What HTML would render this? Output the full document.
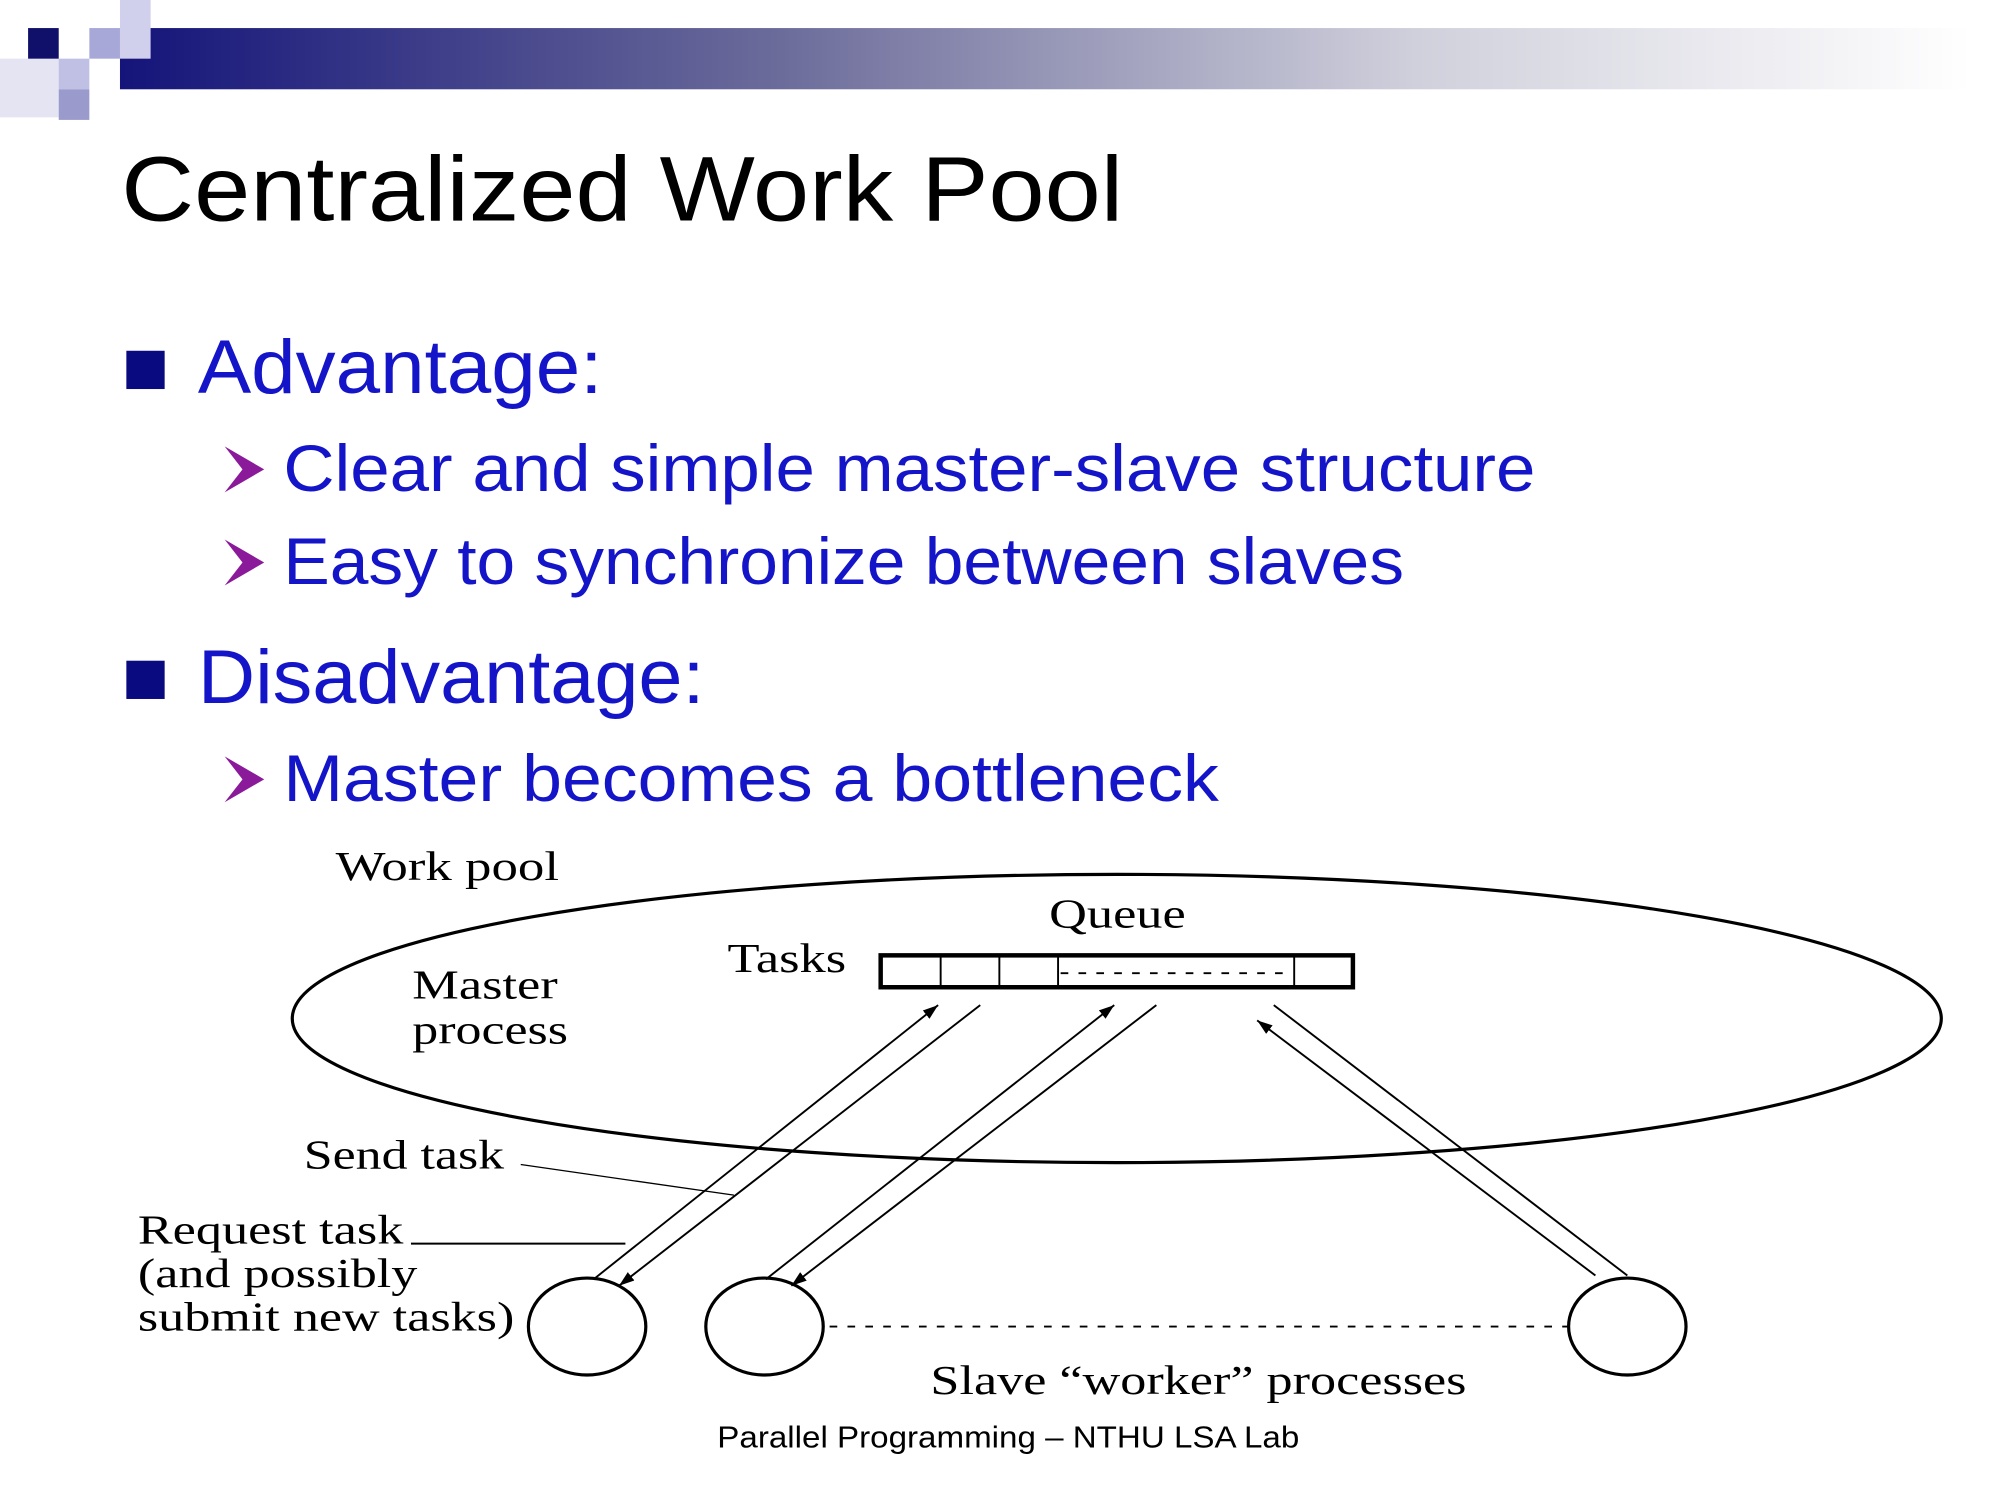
<!DOCTYPE html>
<html><head><meta charset="utf-8"><style>html,body{margin:0;padding:0;background:#fff}svg{display:block}</style></head>
<body>
<svg width="2000" height="1500" viewBox="0 0 1567 1176" preserveAspectRatio="none" xmlns="http://www.w3.org/2000/svg">
<defs>
<linearGradient id="g" x1="0" x2="1" y1="0" y2="0">
<stop offset="0" stop-color="#14147a"/><stop offset="0.35" stop-color="#6a6a9a"/><stop offset="0.7" stop-color="#d0d0dc"/><stop offset="1" stop-color="#ffffff"/>
</linearGradient>
<marker id="a" viewBox="0 0 10 10" refX="10" refY="5" markerWidth="12" markerHeight="12" markerUnits="userSpaceOnUse" orient="auto"><path d="M0,1.5 L10,5 L0,8.5 z" fill="#000"/></marker>
</defs>
<rect x="94" y="22" width="1450" height="48" fill="url(#g)"/>
<rect x="94" y="0" width="24" height="46" fill="#d0d0ec"/>
<rect x="70" y="22" width="24" height="24" fill="#a8a8d8"/>
<rect x="0" y="46" width="46" height="46" fill="#e4e4f2"/>
<rect x="46" y="46" width="24" height="24" fill="#c0c0e4"/>
<rect x="46" y="70" width="24" height="24" fill="#9a9acc"/>
<rect x="22" y="22" width="24" height="24" fill="#10106a"/>
<g font-family="Liberation Sans, sans-serif">
<text x="95" y="173" font-size="72" textLength="785" lengthAdjust="spacingAndGlyphs">Centralized Work Pool</text>
<rect x="99" y="275" width="30" height="30" fill="#0a0a80"/>
<text x="155" y="308" font-size="60" fill="#1414c8" textLength="317" lengthAdjust="spacingAndGlyphs">Advantage:</text>
<path d="M176,350 L207,368 L176,386 L190,368 z" fill="#8a1a9a"/>
<text x="222" y="385" font-size="52" fill="#1414c8" textLength="981" lengthAdjust="spacingAndGlyphs">Clear and simple master-slave structure</text>
<path d="M176,423 L207,441 L176,459 L190,441 z" fill="#8a1a9a"/>
<text x="222" y="458" font-size="52" fill="#1414c8" textLength="878" lengthAdjust="spacingAndGlyphs">Easy to synchronize between slaves</text>
<rect x="99" y="518" width="30" height="30" fill="#0a0a80"/>
<text x="155" y="551" font-size="60" fill="#1414c8" textLength="397" lengthAdjust="spacingAndGlyphs">Disadvantage:</text>
<path d="M176,593 L207,611 L176,629 L190,611 z" fill="#8a1a9a"/>
<text x="222" y="628" font-size="52" fill="#1414c8" textLength="733" lengthAdjust="spacingAndGlyphs">Master becomes a bottleneck</text>
<text x="790" y="1135" font-size="24" text-anchor="middle" textLength="456" lengthAdjust="spacingAndGlyphs">Parallel Programming – NTHU LSA Lab</text>
</g>
<g fill="none" stroke="#000">
<ellipse cx="875" cy="798.5" rx="646" ry="113" stroke-width="2.5"/>
<rect x="690" y="749" width="370" height="25" stroke-width="3.5"/>
<path d="M737,749V774M783,749V774M829,749V774M1014,749V774" stroke-width="1.5"/>
<path d="M831,763H1012" stroke-width="1.5" stroke-dasharray="6,8"/>
<ellipse cx="460" cy="1040" rx="46" ry="38" stroke-width="2.5"/>
<ellipse cx="599" cy="1040" rx="46" ry="38" stroke-width="2.5"/>
<ellipse cx="1275" cy="1040" rx="46" ry="38" stroke-width="2.5"/>
<path d="M650,1040H1228" stroke-width="1.5" stroke-dasharray="6,8"/>
<g stroke-width="1.5">
<line x1="465" y1="1003" x2="735" y2="788" marker-end="url(#a)"/>
<line x1="768" y1="788" x2="485" y2="1008" marker-end="url(#a)"/>
<line x1="600" y1="1003" x2="873" y2="788" marker-end="url(#a)"/>
<line x1="906" y1="788" x2="620" y2="1008" marker-end="url(#a)"/>
<line x1="1250" y1="1000" x2="985" y2="800" marker-end="url(#a)"/>
<line x1="1275" y1="1000" x2="998" y2="788"/>
<line x1="408" y1="913" x2="575" y2="937" stroke-width="1"/>
<line x1="322" y1="975" x2="490" y2="975"/>
</g>
</g>
<g font-family="Liberation Serif, serif" font-size="32">
<text x="263" y="690" textLength="175" lengthAdjust="spacingAndGlyphs">Work pool</text>
<text x="822" y="727" textLength="107" lengthAdjust="spacingAndGlyphs">Queue</text>
<text x="570" y="762" textLength="93" lengthAdjust="spacingAndGlyphs">Tasks</text>
<text x="323" y="783" textLength="114" lengthAdjust="spacingAndGlyphs">Master</text>
<text x="323" y="818" textLength="122" lengthAdjust="spacingAndGlyphs">process</text>
<text x="238" y="916" textLength="157" lengthAdjust="spacingAndGlyphs">Send task</text>
<text x="108" y="975" textLength="208" lengthAdjust="spacingAndGlyphs">Request task</text>
<text x="108" y="1009" textLength="219" lengthAdjust="spacingAndGlyphs">(and possibly</text>
<text x="108" y="1043" textLength="295" lengthAdjust="spacingAndGlyphs">submit new tasks)</text>
<text x="729" y="1093" textLength="420" lengthAdjust="spacingAndGlyphs">Slave “worker” processes</text>
</g>
</svg>
</body></html>
